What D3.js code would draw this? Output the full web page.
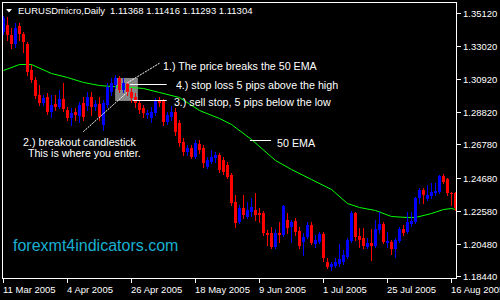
<!DOCTYPE html>
<html lang="en">
<head>
<meta charset="UTF-8">
<title>EURUSDmicro Daily</title>
<script src="https://d3js.org/d3.v7.min.js"></script>
<style>
  body { margin: 0; padding: 0; background: #000; }
  svg { display: block; font-family: 'Liberation Sans', Arial, sans-serif; }
  .axis-text { fill: #fff; font-size: 9.5px; }
  .note { fill: #fff; font-size: 10.7px; }
  .site { fill: #1ab0d2; font-size: 16px; }
</style>
</head>
<body>
<svg width="500" height="300"></svg>
<script>
// date ticks (bar index -> label)
const tickBars = [0, 16, 32, 48, 64, 80, 96, 112];
const tickLabels = ["11 Mar 2005", "4 Apr 2005", "26 Apr 2005", "18 May 2005",
                    "9 Jun 2005", "1 Jul 2005", "25 Jul 2005", "16 Aug 2005"];
const priceTicks = [1.35120, 1.33020, 1.30920, 1.28820, 1.26780, 1.24680, 1.22580, 1.20480, 1.18440];

// daily OHLC
const open = [1.3392,1.3436,1.3373,1.3315,1.3430,1.3379,1.3315,1.3151,1.3087,1.2992,
  1.2941,1.2979,1.2884,1.2935,1.2916,1.2967,1.2897,1.2846,1.2884,1.2859,
  1.2941,1.2922,1.2979,1.2916,1.2935,1.2802,1.2929,1.3011,1.3056,1.3100,
  1.3024,1.3062,1.3011,1.2979,1.2941,1.2910,1.2865,1.2846,1.2878,1.2960,
  1.2954,1.2821,1.2853,1.2884,1.2815,1.2694,1.2631,1.2656,1.2599,1.2681,
  1.2656,1.2536,1.2567,1.2593,1.2612,1.2580,1.2548,1.2485,1.2314,1.2187,
  1.2276,1.2219,1.2250,1.2263,1.2244,1.2244,1.2117,1.2117,1.2028,1.2117,
  1.2105,1.2200,1.2155,1.2193,1.2130,1.2060,1.2092,1.2168,1.2047,1.2060,
  1.2111,1.1933,1.1902,1.1908,1.1921,1.1933,1.1965,1.2066,1.2244,1.2098,
  1.2086,1.2028,1.2054,1.2035,1.2136,1.2174,1.2054,1.2060,1.2016,1.2066,
  1.2142,1.2124,1.2174,1.2187,1.2339,1.2390,1.2333,1.2352,1.2371,1.2377,
  1.2479,1.2460,1.2371,1.2371];
const high = [1.3493,1.3487,1.3417,1.3449,1.3449,1.3392,1.3328,1.3182,1.3106,1.3056,
  1.2992,1.3005,1.2992,1.2992,1.3024,1.3068,1.2916,1.2910,1.2910,1.2948,
  1.2979,1.3011,1.3011,1.2960,1.2979,1.2960,1.3068,1.3100,1.3119,1.3113,
  1.3100,1.3075,1.3037,1.3005,1.2960,1.2929,1.2897,1.2916,1.2973,1.2979,
  1.2967,1.2884,1.2922,1.2910,1.2834,1.2720,1.2675,1.2675,1.2707,1.2707,
  1.2675,1.2599,1.2643,1.2631,1.2624,1.2599,1.2567,1.2498,1.2358,1.2295,
  1.2358,1.2314,1.2339,1.2371,1.2276,1.2257,1.2136,1.2155,1.2142,1.2187,
  1.2295,1.2244,1.2200,1.2212,1.2155,1.2117,1.2187,1.2187,1.2105,1.2124,
  1.2124,1.1959,1.1933,1.1959,1.2047,1.2009,1.2086,1.2257,1.2250,1.2149,
  1.2149,1.2086,1.2142,1.2200,1.2250,1.2187,1.2124,1.2073,1.2086,1.2155,
  1.2168,1.2250,1.2250,1.2345,1.2403,1.2403,1.2422,1.2434,1.2434,1.2485,
  1.2491,1.2466,1.2377,1.2377];
const low = [1.3379,1.3341,1.3290,1.3296,1.3341,1.3265,1.3119,1.3075,1.2973,1.2929,
  1.2929,1.2872,1.2853,1.2897,1.2910,1.2891,1.2834,1.2802,1.2834,1.2821,
  1.2834,1.2897,1.2865,1.2897,1.2834,1.2770,1.2916,1.2992,1.3037,1.3011,
  1.3011,1.2992,1.2948,1.2916,1.2878,1.2853,1.2846,1.2821,1.2865,1.2922,
  1.2802,1.2808,1.2834,1.2739,1.2669,1.2612,1.2612,1.2593,1.2593,1.2624,
  1.2536,1.2529,1.2561,1.2567,1.2504,1.2491,1.2466,1.2295,1.2155,1.2181,
  1.2212,1.2212,1.2225,1.2200,1.2187,1.2105,1.2041,1.2022,1.2022,1.2060,
  1.2098,1.2117,1.2060,1.2105,1.2022,1.1978,1.2086,1.2047,1.2028,1.2054,
  1.1940,1.1895,1.1883,1.1902,1.1908,1.1921,1.1959,1.2060,1.2073,1.2028,
  1.2022,1.2022,1.1946,1.2028,1.2117,1.2054,1.2028,1.1984,1.1965,1.2060,
  1.2105,1.2117,1.2162,1.2181,1.2307,1.2307,1.2326,1.2339,1.2358,1.2371,
  1.2434,1.2358,1.2295,1.2263];
const close = [1.3480,1.3373,1.3315,1.3417,1.3379,1.3328,1.3138,1.3087,1.2986,1.2941,
  1.2973,1.2884,1.2929,1.2916,1.2967,1.2903,1.2846,1.2878,1.2865,1.2929,
  1.2853,1.2979,1.2916,1.2935,1.2853,1.2941,1.3043,1.3068,1.3100,1.3024,
  1.3068,1.3011,1.2973,1.2941,1.2897,1.2878,1.2878,1.2884,1.2960,1.2941,
  1.2821,1.2865,1.2884,1.2758,1.2688,1.2631,1.2656,1.2599,1.2688,1.2643,
  1.2561,1.2580,1.2599,1.2612,1.2517,1.2504,1.2472,1.2307,1.2181,1.2276,
  1.2231,1.2263,1.2282,1.2231,1.2231,1.2117,1.2105,1.2028,1.2117,1.2105,
  1.2288,1.2149,1.2187,1.2124,1.2035,1.2092,1.2168,1.2054,1.2073,1.2111,
  1.1959,1.1902,1.1921,1.1933,1.1952,1.1978,1.2073,1.2244,1.2092,1.2073,
  1.2035,1.2054,1.2035,1.2142,1.2174,1.2060,1.2066,1.2016,1.2073,1.2142,
  1.2117,1.2187,1.2193,1.2339,1.2390,1.2358,1.2358,1.2377,1.2383,1.2479,
  1.2441,1.2371,1.2364,1.2276];

// 50 EMA readings (bar index, value)
const emaBars = [0,4,7,12,16,20,24,27,32,35,39,44,49,54,57,62,68,72,77,82,86,89,93,97,101,103,107,110,112,113];
const emaValues = [1.3151,1.3189,1.3189,1.3132,1.3106,1.3075,1.3056,1.3049,1.3043,1.3037,
  1.3011,1.2979,1.2897,1.2846,1.2808,1.2713,1.2580,1.2523,1.2460,1.2396,
  1.2307,1.2282,1.2263,1.2225,1.2219,1.2219,1.2244,1.2269,1.2276,1.2269];

const svg = d3.select("svg");
svg.append("rect").attr("width", 500).attr("height", 300).attr("fill", "#000");

const x = d3.scaleLinear().domain([0, 113]).range([3.5, 455.5]);
const y = d3.scaleLinear().domain([1.18440, 1.35120]).range([276, 13]);
const py = v => Math.round(y(v));

svg.append("clipPath").attr("id", "plot")
  .append("rect").attr("x", 3).attr("y", 3).attr("width", 453).attr("height", 275);

const plot = svg.append("g").attr("clip-path", "url(#plot)");

// highlight box around the breakout
plot.append("rect")
  .attr("x", x(27.9)).attr("y", y(1.3100))
  .attr("width", x(33.6) - x(27.9))
  .attr("height", y(1.2954) - y(1.3100))
  .attr("fill", "#868686");

// EMA
const ema = emaBars.map((b, i) => ({ b: b, v: emaValues[i] }));
plot.append("path")
  .datum(ema)
  .attr("d", d3.line().x(d => x(d.b)).y(d => py(d.v) + 0.5))
  .attr("fill", "none")
  .attr("stroke", "#00ff00")
  .attr("stroke-width", 1);

// candles
const bars = open.map((o, i) => ({ i: i, o: o, h: high[i], l: low[i], c: close[i] }));
const col = d => d.c > d.o ? "#0000ff" : "#ff0000";

plot.selectAll("line.wick")
  .data(bars)
  .enter()
  .append("line")
  .attr("class", "wick")
  .attr("x1", d => x(d.i)).attr("x2", d => x(d.i))
  .attr("y1", d => py(d.h)).attr("y2", d => py(d.l) + 1)
  .attr("stroke", col);

plot.selectAll("rect.body")
  .data(bars)
  .enter()
  .append("rect")
  .attr("class", "body")
  .attr("x", d => x(d.i) - 1.5)
  .attr("width", 3)
  .attr("y", d => py(Math.max(d.o, d.c)))
  .attr("height", d => Math.max(1, py(Math.min(d.o, d.c)) - py(Math.max(d.o, d.c))))
  .attr("fill", col);

// annotation lines
const solid = [
  { x1: 31.6, y1: 1.3062, x2: 40.8, y2: 1.3062 },
  { x1: 32.4, y1: 1.2960, x2: 40.8, y2: 1.2960 },
  { x1: 61.6, y1: 1.2707, x2: 66.9, y2: 1.2707 }
];
const dotted = [
  { x1: 19.95, y1: 1.2759, x2: 31.1, y2: 1.3013 },
  { x1: 30.9, y1: 1.3068, x2: 39.1, y2: 1.3195 }
];
svg.selectAll("line.note-line")
  .data(solid)
  .enter()
  .append("line")
  .attr("class", "note-line")
  .attr("x1", d => x(d.x1)).attr("x2", d => x(d.x2))
  .attr("y1", d => py(d.y1) + 0.5).attr("y2", d => py(d.y2) + 0.5)
  .attr("stroke", "#fff");
svg.selectAll("line.note-dot")
  .data(dotted)
  .enter()
  .append("line")
  .attr("class", "note-dot")
  .attr("x1", d => x(d.x1)).attr("x2", d => x(d.x2))
  .attr("y1", d => y(d.y1)).attr("y2", d => y(d.y2))
  .attr("stroke", "#fff")
  .attr("stroke-dasharray", "2,1");

const notes = [
  { t: "1.) The price breaks the 50 EMA", b: 39.9, p: 1.3151 },
  { t: "4.) stop loss 5 pips above the high", b: 43.1, p: 1.3030 },
  { t: "3.) sell stop, 5 pips below the low", b: 42.6, p: 1.2922 },
  { t: "2.) breakout candlestick", b: 4.9, p: 1.2666 },
  { t: "This is where you enter.", b: 6.1, p: 1.2596 },
  { t: "50 EMA", b: 68.4, p: 1.2663 }
];
svg.selectAll("text.note")
  .data(notes)
  .enter()
  .append("text")
  .attr("class", "note")
  .attr("x", d => x(d.b))
  .attr("y", d => y(d.p))
  .text(d => d.t);

svg.append("text")
  .attr("class", "site")
  .attr("x", 13).attr("y", 251)
  .text("forexmt4indicators.com");

// frame
svg.append("rect")
  .attr("x", 2.5).attr("y", 2.5)
  .attr("width", 454).attr("height", 276)
  .attr("fill", "none").attr("stroke", "#fff");

// price axis
priceTicks.forEach(v => {
  const ty = py(v) + 0.5;
  svg.append("line").attr("x1", 456.5).attr("x2", 461).attr("y1", ty).attr("y2", ty).attr("stroke", "#fff");
  svg.append("text").attr("class", "axis-text").attr("x", 463).attr("y", ty + 3.5).text(v.toFixed(5));
});

// date axis
tickBars.forEach((b, i) => {
  svg.append("line").attr("x1", x(b)).attr("x2", x(b)).attr("y1", 278.5).attr("y2", 283).attr("stroke", "#fff");
  svg.append("text").attr("class", "axis-text").attr("x", x(b) - 0.5).attr("y", 292.5).text(tickLabels[i]);
});

// header
svg.append("path").attr("d", "M6,9L12,9L9,12.5Z").attr("fill", "#fff");
svg.append("text").attr("class", "axis-text").attr("x", 18).attr("y", 13.5).text("EURUSDmicro,Daily");
svg.append("text").attr("class", "axis-text").attr("x", 110).attr("y", 13.5).text("1.11368 1.11416 1.11293 1.11304");
</script>
</body>
</html>
